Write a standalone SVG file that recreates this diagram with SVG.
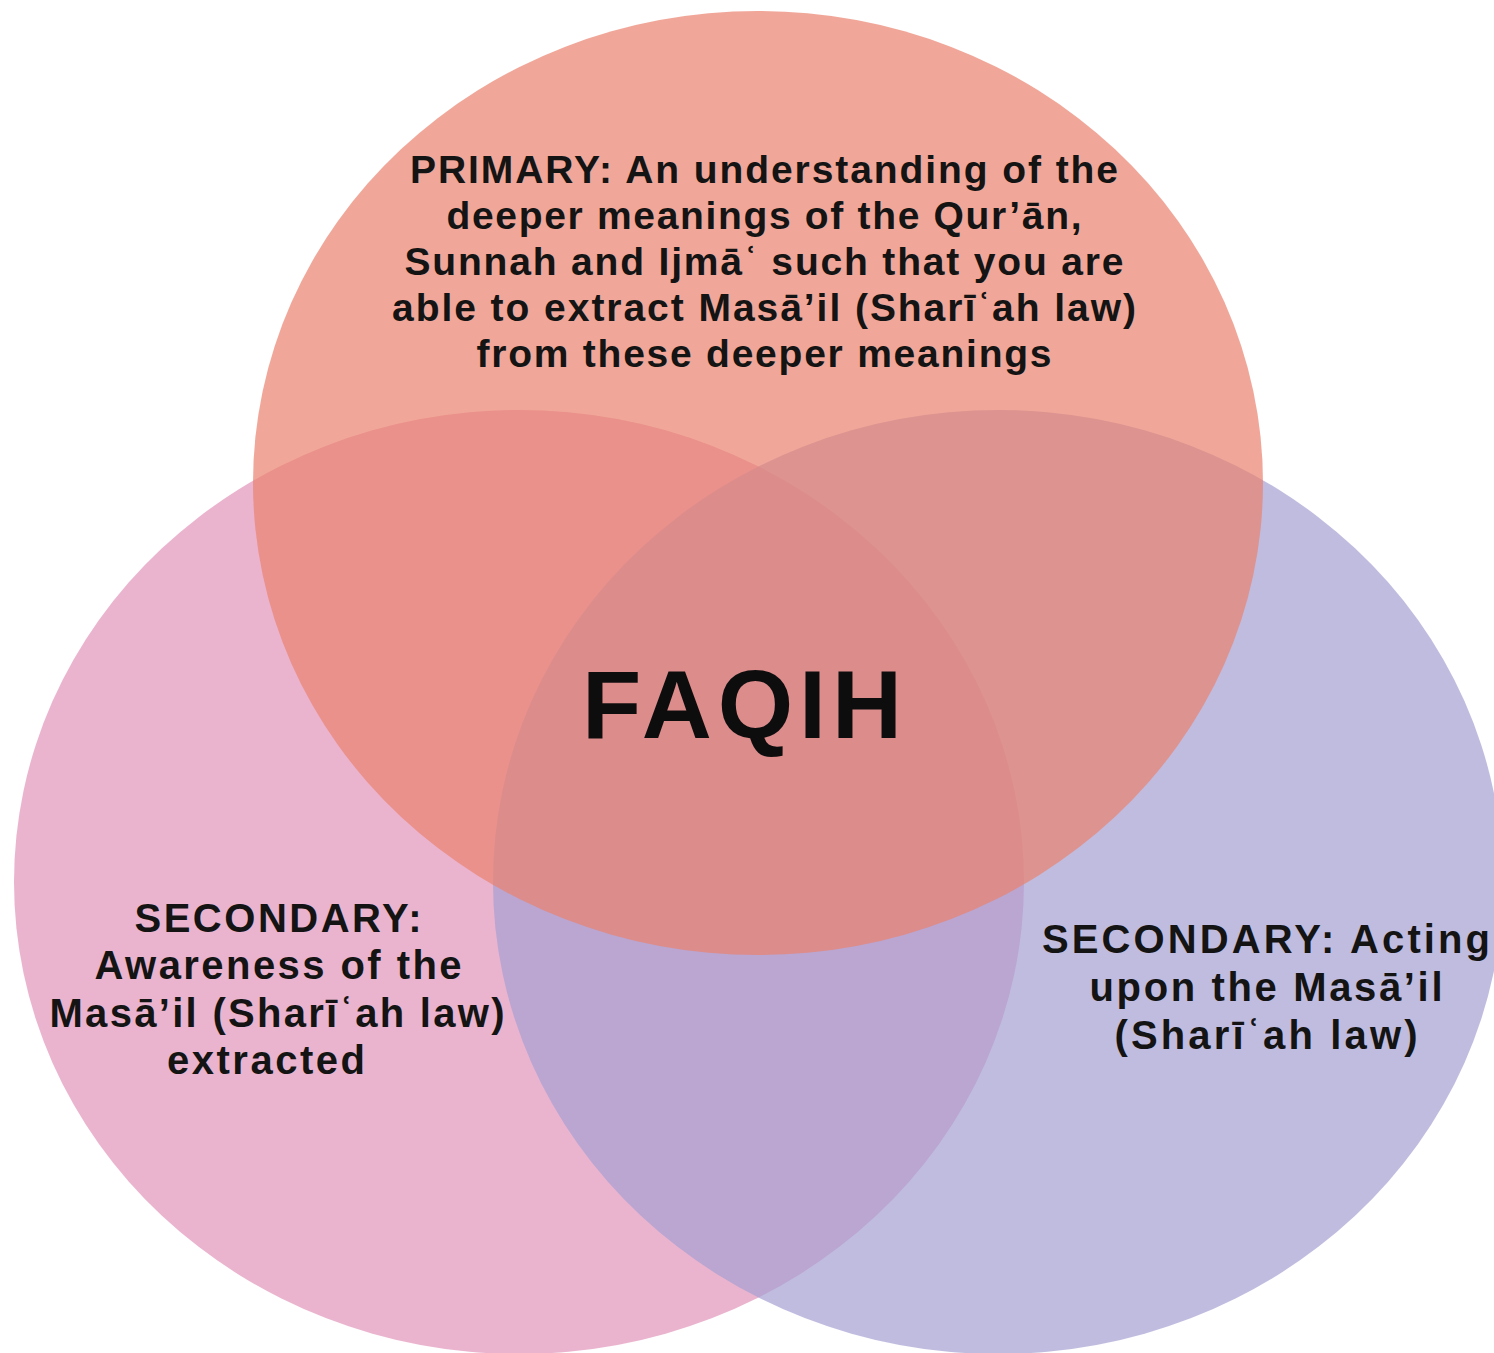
<svg xmlns="http://www.w3.org/2000/svg" width="1494" height="1353" viewBox="0 0 1494 1353">
<style>
  .set { opacity: 0.7; }
  .lbl { font-family: "Liberation Sans", Arial, sans-serif; font-weight: 700; fill: #141414; text-anchor: middle; }
  .big { font-family: "Liberation Sans", Arial, sans-serif; font-weight: 700; fill: #0d0d0d; text-anchor: middle; }
</style>
<rect width="1494" height="1353" fill="#ffffff"/>
<g id="set-awareness">
  <ellipse class="set" cx="519" cy="882" rx="505" ry="472" fill="#E194BA"/>
</g>
<g id="set-acting">
  <ellipse class="set" cx="998" cy="882" rx="505" ry="472" fill="#A59FD1"/>
</g>
<g id="set-primary">
  <ellipse class="set" cx="758" cy="483" rx="505" ry="472" fill="#E9816D"/>
</g>
<g id="text-primary" class="lbl" font-size="39">
  <text x="764" y="183" textLength="708" lengthAdjust="spacing">PRIMARY: An understanding of the</text>
  <text x="764" y="229" textLength="635" lengthAdjust="spacing">deeper meanings of the Qur’ān,</text>
  <text x="764" y="275" textLength="719" lengthAdjust="spacing">Sunnah and Ijmāʿ such that you are</text>
  <text x="764" y="321" textLength="744" lengthAdjust="spacing">able to extract Masā’il (Sharīʿah law)</text>
  <text x="764" y="367" textLength="575" lengthAdjust="spacing">from these deeper meanings</text>
</g>
<g id="text-awareness" class="lbl" font-size="40">
  <text x="278" y="932" textLength="287" lengthAdjust="spacing">SECONDARY:</text>
  <text x="278" y="979" textLength="367" lengthAdjust="spacing">Awareness of the</text>
  <text x="277" y="1027" textLength="455" lengthAdjust="spacing">Masā’il (Sharīʿah law)</text>
  <text x="266" y="1074" textLength="198" lengthAdjust="spacing">extracted</text>
</g>
<g id="text-acting" class="lbl" font-size="40">
  <text x="1266" y="953" textLength="448" lengthAdjust="spacing">SECONDARY: Acting</text>
  <text x="1266" y="1001" textLength="353" lengthAdjust="spacing">upon the Masā’il</text>
  <text x="1266" y="1049" textLength="303" lengthAdjust="spacing">(Sharīʿah law)</text>
</g>
<g id="label-faqih">
  <text class="big" x="742" y="738" font-size="97" textLength="320" lengthAdjust="spacing">FAQIH</text>
</g>
</svg>
